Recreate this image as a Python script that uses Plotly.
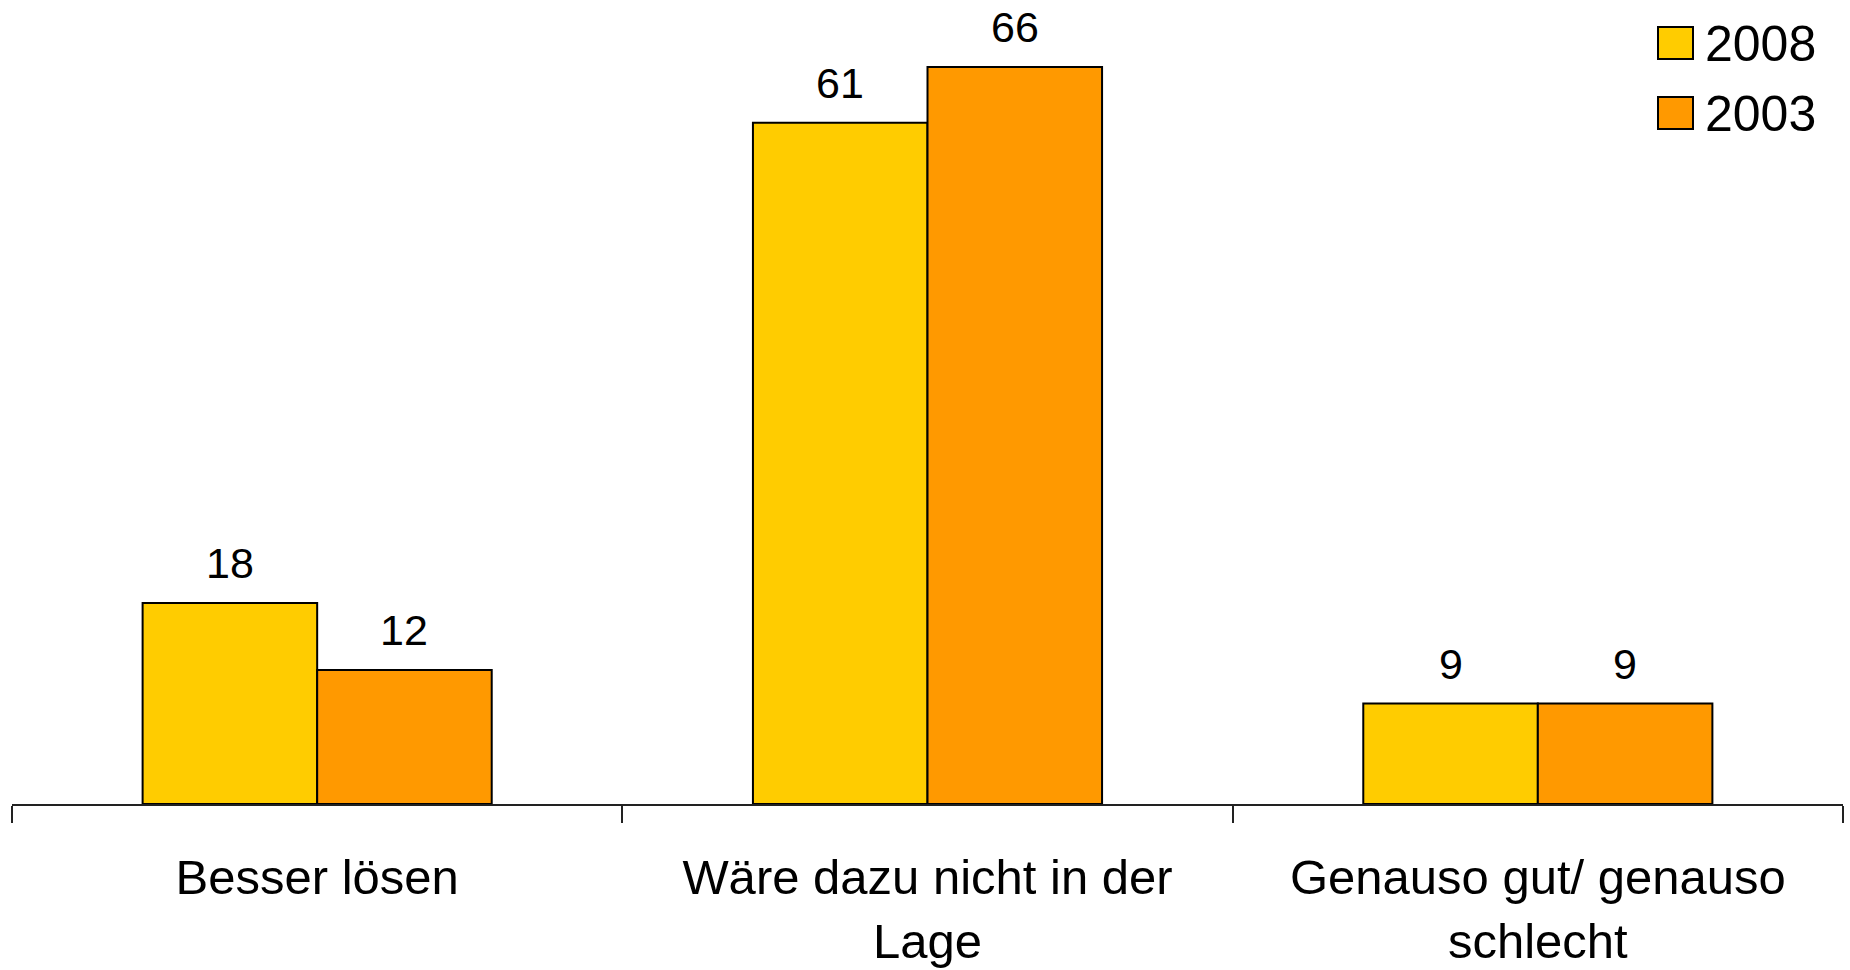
import plotly.graph_objects as go

# Survey answers and shares (%) per year
categories = ["Besser lösen", "Wäre dazu nicht in der<br>Lage", "Genauso gut/ genauso<br>schlecht"]
series_names = ["2008", "2003"]
values_2008 = [18, 61, 9]
values_2003 = [12, 66, 9]
series_values = [values_2008, values_2003]
series_colors = ["#FFCC00", "#FF9900"]

W, H = 1850, 970
M_L, M_R, M_T, M_B = 12, 7, 0, 166
PLOT_W = W - M_L - M_R
PLOT_H = H - M_T - M_B
BARGAP = 0.428
BAR_PX = PLOT_W / len(categories) * (1 - BARGAP) / len(series_names)

FONT = "Liberation Sans, Arial, sans-serif"

fig = go.Figure()
for name, vals, col in zip(series_names, series_values, series_colors):
    fig.add_trace(go.Bar(
        name=name, x=categories, y=vals,
        marker=dict(color=col, line=dict(color="#000000", width=2)),
        showlegend=False, hoverinfo="x+y+name",
    ))

# Value labels above each bar
n = len(series_names)
for si, vals in enumerate(series_values):
    offset = (si - (n - 1) / 2) * BAR_PX
    for cat, v in zip(categories, vals):
        fig.add_annotation(
            x=cat, y=v, text=str(v), showarrow=False,
            xanchor="center", yanchor="bottom", xshift=offset, yshift=14,
            font=dict(family=FONT, size=43, color="#000000"),
        )

# Legend: coloured squares with year labels in the top-right corner
def px_x(px):
    return (px - M_L) / PLOT_W

def px_y(py):
    return 1 - (py - M_T) / PLOT_H

legend_rows = [(27, 59), (97, 129)]
for (y0, y1), name, col in zip(legend_rows, series_names, series_colors):
    fig.add_shape(type="rect", xref="paper", yref="paper",
                  x0=px_x(1658), x1=px_x(1693), y0=px_y(y1), y1=px_y(y0),
                  fillcolor=col, line=dict(color="#000000", width=2))
    fig.add_annotation(xref="paper", yref="paper", x=px_x(1703), y=px_y((y0 + y1) / 2 + 1),
                       text=name, showarrow=False, xanchor="left", yanchor="middle",
                       font=dict(family=FONT, size=50, color="#000000"))

fig.update_layout(
    width=W, height=H,
    margin=dict(l=M_L, r=M_R, t=M_T, b=M_B),
    barmode="group", bargap=BARGAP, bargroupgap=0,
    plot_bgcolor="#FFFFFF", paper_bgcolor="#FFFFFF",
    font=dict(family=FONT, color="#000000"),
)
fig.update_xaxes(
    showline=True, linecolor="#222222", linewidth=2,
    ticks="outside", ticklen=17, tickwidth=2, tickcolor="#222222",
    tickson="boundaries", showgrid=False, ticklabelstandoff=29,
    tickfont=dict(family=FONT, size=49, color="#000000"),
    automargin=False,
)
fig.update_yaxes(range=[0, 72], visible=False, showgrid=False, zeroline=False,
                 automargin=False)

fig.write_html("out.html", config={"displayModeBar": False})
